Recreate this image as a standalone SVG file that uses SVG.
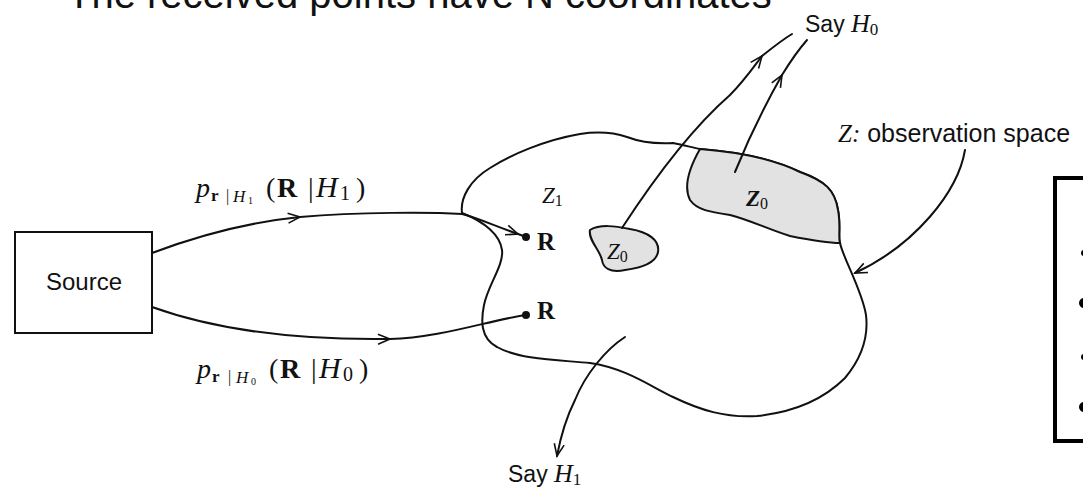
<svg xmlns="http://www.w3.org/2000/svg" width="1083" height="488" viewBox="0 0 1083 488">
<defs>
<marker id="arr" markerUnits="userSpaceOnUse" markerWidth="16" markerHeight="12" refX="13" refY="6" orient="auto" viewBox="0 0 16 12">
<path d="M1,1 L13,6 L1,11" fill="none" stroke="#111" stroke-width="1.6"/>
</marker>
<style>
.ln{fill:none;stroke:#111;stroke-width:2;stroke-linecap:round;stroke-linejoin:round}
.shade{fill:#e2e2e2;stroke:#111;stroke-width:2}
.sans{font-family:"Liberation Sans",Arial,sans-serif;fill:#111}
.ser{font-family:"Liberation Serif","Times New Roman",serif;fill:#111}
.it{font-style:italic}
.bd{font-weight:bold}
</style>
</defs>
<rect width="1083" height="488" fill="#fff"/>
<text class="sans" x="67" y="8" font-size="40" fill="#000">The received points have N coordinates</text>

<g id="source">
<rect x="15" y="232" width="137" height="101" fill="#fff" stroke="#111" stroke-width="2"/>
<text class="sans" x="84" y="290" font-size="24" text-anchor="middle">Source</text>
</g>

<g id="region-z">
<path class="ln" d="M462,213 C460,198 470,180 490,168 C510,155 545,140 580,134 C600,131 615,133 627,137 C640,142 655,144 673,143 C685,145 693,148 700,149 C740,152 775,160 800,172 C825,181 835,190 838,210 C841,225 838,237 840,243 C843,258 862,290 866,315 C869,340 860,360 845,378 C825,398 795,412 757,416 C725,418 700,410 673,397 C650,386 625,368 590,363 C560,360 520,360 497,347 C480,338 481,320 484,305 C488,285 504,265 502,250 C500,235 485,222 462,213 Z"/>
</g>
<g id="z0-big">
<path class="shade" d="M700,149 C740,152 775,160 800,172 C825,181 835,190 838,210 C841,225 838,237 840,243 C825,243 810,240 790,236 C770,230 750,220 730,215 C710,212 697,210 690,200 C684,188 688,170 700,149 Z"/>
<text class="ser it bd" x="746" y="206" font-size="23">Z<tspan font-size="16" dy="3" font-style="normal" font-weight="normal">0</tspan></text>
</g>
<g id="z0-small">
<path class="shade" d="M590,230 C600,224 615,226 630,229 C648,232 660,240 658,252 C656,264 640,268 625,270 C610,273 603,268 602,260 C600,250 588,240 590,230 Z"/>
<text class="ser it" x="607" y="259" font-size="23">Z<tspan font-size="16" dy="3" font-style="normal">0</tspan></text>
</g>
<g id="z1">
<text class="ser it" x="542" y="203" font-size="23">Z<tspan font-size="16" dy="3" font-style="normal">1</tspan></text>
</g>
<g id="point-r1">
<circle cx="526" cy="237" r="4" fill="#111"/>
<text class="ser bd" x="537" y="250" font-size="25">R</text>
</g>
<g id="point-r0">
<circle cx="526" cy="315" r="4" fill="#111"/>
<text class="ser bd" x="537" y="319" font-size="25">R</text>
</g>
<g id="say-h0">
<text x="805" y="32"><tspan class="sans" font-size="23">Say </tspan><tspan class="ser it" font-size="26">H</tspan><tspan class="ser" font-size="17" dy="3">0</tspan></text>
</g>
<g id="say-h1">
<text x="508" y="482"><tspan class="sans" font-size="23">Say </tspan><tspan class="ser it" font-size="26">H</tspan><tspan class="ser" font-size="17" dy="3">1</tspan></text>
</g>
<g id="z-label">
<text x="838" y="142"><tspan class="ser it" font-size="25">Z:</tspan><tspan class="sans" font-size="25"> observation space</tspan></text>
</g>
<g id="label-h1">
<text class="ser" y="197" font-size="28"><tspan x="196" class="it">p</tspan><tspan x="211" y="201" font-size="17" class="bd">r</tspan><tspan x="226" y="201" font-size="16">|</tspan><tspan x="233" y="202" font-size="17" class="it">H</tspan><tspan x="248" y="204" font-size="10">1</tspan><tspan x="266" y="197">(</tspan><tspan x="277" class="bd">R</tspan><tspan x="308">|</tspan><tspan x="316" class="it" font-size="30">H</tspan><tspan x="340" y="200" font-size="20">1</tspan><tspan x="356" y="197">)</tspan></text>
</g>
<g id="label-h0">
<text class="ser" y="378" font-size="28"><tspan x="197" class="it">p</tspan><tspan x="212" y="382" font-size="17" class="bd">r</tspan><tspan x="228" y="382" font-size="16">|</tspan><tspan x="236" y="383" font-size="17" class="it">H</tspan><tspan x="251" y="385" font-size="10">0</tspan><tspan x="269" y="378">(</tspan><tspan x="280" class="bd">R</tspan><tspan x="311">|</tspan><tspan x="319" class="it" font-size="30">H</tspan><tspan x="343" y="381" font-size="20">0</tspan><tspan x="359" y="378">)</tspan></text>
</g>

<g id="connectors">
<path class="ln" d="M152,253 C200,235 250,222 300,217" marker-end="url(#arr)"/>
<path class="ln" d="M300,217 C360,212 430,212 462,214 C478,218 495,226 518,234" marker-end="url(#arr)"/>
<path class="ln" d="M518,234 L526,237"/>
<path class="ln" d="M152,307 C230,335 320,340 390,339" marker-end="url(#arr)"/>
<path class="ln" d="M390,339 C440,338 490,320 526,315"/>
<path class="ln" d="M622,228 C650,185 690,130 730,95 C745,80 755,65 762,56" marker-end="url(#arr)"/>
<path class="ln" d="M762,56 C772,48 782,40 792,34"/>
<path class="ln" d="M735,172 C748,140 765,105 782,75" marker-end="url(#arr)"/>
<path class="ln" d="M782,75 C790,62 800,48 807,40"/>
<path class="ln" d="M625,337 C605,350 585,375 575,400 C565,420 560,440 557,456" marker-end="url(#arr)"/>
<path class="ln" d="M965,150 C958,192 915,245 855,273" stroke-width="1.6" marker-end="url(#arr)"/>
</g>

<g id="side-box">
<rect x="1055" y="178" width="60" height="263" fill="none" stroke="#000" stroke-width="4"/>
<circle cx="1084" cy="253" r="3" fill="#000"/>
<circle cx="1084" cy="303" r="5" fill="#000"/>
<circle cx="1084" cy="357" r="3" fill="#000"/>
<circle cx="1084" cy="407" r="5" fill="#000"/>
</g>
</svg>
